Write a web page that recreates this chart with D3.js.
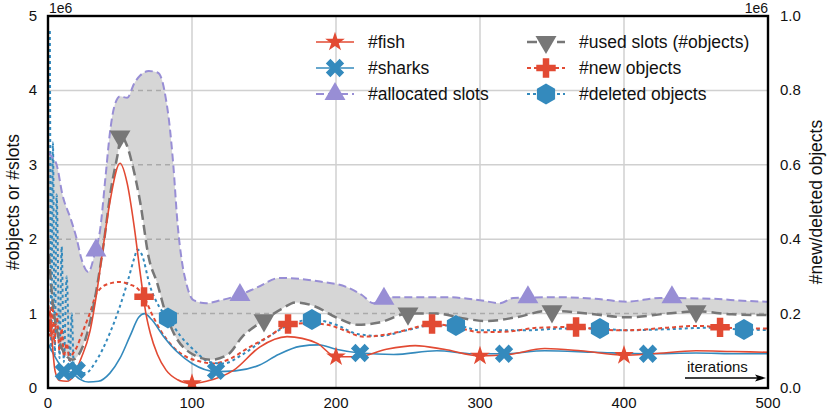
<!DOCTYPE html>
<html>
<head>
<meta charset="utf-8">
<script src="https://cdn.jsdelivr.net/npm/d3@7"></script>
<style>
  body { margin: 0; background: #fff; }
  svg { font-family: "Liberation Sans", Arial, sans-serif; }
</style>
</head>
<body>
<svg id="chart" width="831" height="410"></svg>
<script>
// values in 1e6: [iteration, value]
var fish = [[0,0.82],[1.5,1.05],[3,0.6],[5,0.22],[8,0.1],[13,0.09],[18,0.17],[23,0.4],[29,0.75],[34,1.3],[38,1.85],[43,2.5],[50,3.02],[55,2.75],[60,2.15],[64,1.55],[68,1.0],[71,0.74],[76,0.45],[82,0.24],[90,0.11],[99,0.06],[110,0.09],[129,0.24],[147,0.55],[166,0.69],[187,0.6],[200,0.42],[215,0.42],[235,0.52],[255,0.57],[275,0.52],[300,0.43],[320,0.45],[345,0.53],[370,0.5],[400,0.44],[420,0.46],[450,0.5],[475,0.49],[500,0.48]];
var sharks = [[0,0.6],[4,0.45],[8,0.32],[12,0.24],[17,0.2],[22,0.12],[28,0.08],[35,0.09],[43,0.2],[50,0.4],[57,0.7],[63,0.95],[67,1.0],[72,0.92],[80,0.7],[90,0.48],[100,0.33],[117,0.22],[130,0.23],[147,0.31],[160,0.45],[175,0.56],[188,0.58],[200,0.52],[216.7,0.47],[240,0.45],[270,0.5],[295,0.46],[316.7,0.46],[345,0.5],[380,0.48],[416.7,0.46],[450,0.47],[480,0.46],[500,0.46]];
var allocated = [[0,3.17],[3,3.1],[6,3.0],[10,2.6],[16,2.26],[20,2.0],[23,1.75],[28,1.56],[33,1.85],[36,2.1],[40,2.85],[43,3.43],[46,3.78],[50,3.92],[55,3.9],[60,4.1],[64,4.2],[70,4.26],[76,4.24],[79,4.15],[82,3.87],[84,3.6],[87,3.0],[90,2.2],[93,1.7],[96,1.41],[101,1.18],[110,1.14],[120,1.18],[133,1.25],[145,1.35],[161,1.48],[189,1.43],[207,1.36],[218,1.25],[226,1.14],[233,1.2],[240,1.22],[277,1.22],[300,1.18],[314,1.14],[323,1.21],[355,1.22],[380,1.2],[402,1.16],[425,1.21],[460,1.2],[485,1.17],[500,1.16]];
var usedSlots = [[0,2.0],[3,1.2],[7,0.7],[12,0.45],[17,0.38],[24,0.55],[30,0.95],[38,1.85],[44,2.7],[48,3.1],[51,3.38],[55,3.25],[59,2.97],[64,2.5],[70,1.75],[76,1.4],[81,1.05],[87,0.75],[99,0.47],[113,0.38],[125,0.45],[135,0.69],[150,0.91],[162,1.06],[172,1.15],[185,1.1],[200,0.95],[215,0.85],[230,0.88],[250,1.0],[270,1.0],[290,0.93],[305,0.9],[325,0.95],[348,1.04],[375,1.0],[402,0.95],[430,1.0],[451,1.03],[475,0.99],[500,0.98]];
// right axis (1e6)
var newObjects = [[0,0.26],[1.5,0.14],[3,0.23],[4.5,0.12],[6,0.2],[8,0.1],[9.5,0.16],[11,0.085],[13,0.12],[15,0.075],[17,0.09],[20,0.11],[24,0.15],[29,0.2],[34,0.256],[42,0.28],[50,0.285],[57,0.278],[62,0.268],[66.7,0.245],[72,0.2],[78,0.156],[87,0.11],[96,0.084],[105,0.072],[115,0.066],[125,0.076],[140,0.11],[154,0.14],[166.7,0.17],[180,0.174],[194,0.17],[205,0.156],[219,0.138],[235,0.144],[249,0.156],[266.7,0.172],[285,0.162],[300,0.15],[320,0.152],[340,0.162],[366.7,0.164],[383,0.157],[400,0.155],[430,0.162],[451,0.167],[466.7,0.163],[485,0.16],[500,0.16]];
var deletedObjects = [[1.3,0.96],[2.3,0.1],[3.4,0.66],[4.7,0.09],[6,0.52],[8,0.08],[9.5,0.38],[11,0.07],[13,0.3],[15,0.06],[16.5,0.2],[18,0.05],[21,0.04],[26,0.04],[33,0.07],[43,0.148],[50,0.22],[55,0.282],[60,0.35],[62,0.372],[65,0.36],[71,0.272],[77,0.22],[83.3,0.188],[92,0.14],[102,0.1],[112,0.07],[122,0.066],[135,0.09],[150,0.13],[165,0.165],[183.3,0.184],[200,0.17],[215,0.145],[230,0.14],[250,0.156],[265,0.168],[283.3,0.168],[300,0.155],[330,0.155],[360,0.16],[383.3,0.16],[400,0.155],[430,0.158],[460,0.162],[483.3,0.157],[500,0.156]];

// marker points
var fishMarks = [[0,0.82],[100,0.06],[200,0.42],[300,0.43],[400,0.44]];
var sharkMarks = [[11,0.22],[20,0.24],[116.7,0.23],[216.7,0.47],[316.7,0.46],[416.7,0.46]];
var allocMarks = [[33.3,1.85],[133.3,1.25],[233.3,1.2],[333.3,1.22],[433.3,1.22]];
var usedMarks = [[50,3.38],[150,0.91],[250,1.0],[350,1.03],[450,1.03]];
var newMarks = [[66.7,0.245],[166.7,0.172],[266.7,0.172],[366.7,0.164],[466.7,0.163]];
var delMarks = [[83.3,0.188],[183.3,0.184],[283.3,0.168],[383.3,0.16],[483.3,0.157]];

var xTicks = [0,100,200,300,400,500];
var yLeftTicks = [0,1,2,3,4,5];
var yRightTicks = [0,0.2,0.4,0.6,0.8,1.0];

var legendLabels = ["#fish","#sharks","#allocated slots","#used slots (#objects)","#new objects","#deleted objects"];

var red = "#E24A33", blue = "#348ABD", purple = "#988ED5", gray = "#777777";

var svg = d3.select("#chart");
var x = d3.scaleLinear().domain([0,500]).range([48,768]);
var yL = d3.scaleLinear().domain([0,5]).range([388,16]);
var yR = d3.scaleLinear().domain([0,1]).range([388,16]);

svg.append("clipPath").attr("id","plotclip").append("rect")
  .attr("x",48).attr("y",16).attr("width",720).attr("height",372);

// grid
var grid = svg.append("g").attr("stroke","#d0d0d0").attr("stroke-width",1.5);
grid.selectAll(".gx").data(xTicks.slice(1,-1)).enter().append("line")
  .attr("x1",function(d){return x(d);}).attr("x2",function(d){return x(d);})
  .attr("y1",16).attr("y2",388);
grid.selectAll(".gy").data(yLeftTicks.slice(1,-1)).enter().append("line")
  .attr("x1",48).attr("x2",768)
  .attr("y1",function(d){return yL(d);}).attr("y2",function(d){return yL(d);});

var lineL = d3.line().x(function(d){return x(d[0]);}).y(function(d){return yL(d[1]);}).curve(d3.curveMonotoneX);
var lineR = d3.line().x(function(d){return x(d[0]);}).y(function(d){return yR(d[1]);}).curve(d3.curveMonotoneX);

// fill between used and allocated slots
var fillPath = lineL(allocated) + "L" + lineL(usedSlots.slice().reverse()).slice(1) + "Z";
var plot = svg.append("g").attr("clip-path","url(#plotclip)");
plot.append("path").attr("d",fillPath).attr("fill","#d6d6d6");

svg.append("clipPath").attr("id","fillclip").append("path").attr("d",fillPath);
var grid2 = plot.append("g").attr("clip-path","url(#fillclip)")
  .attr("stroke","#aaaaaa").attr("stroke-width",1.5).attr("stroke-dasharray","5,4");
grid2.selectAll("line").data(yLeftTicks.slice(1,-1)).enter().append("line")
  .attr("x1",48).attr("x2",768)
  .attr("y1",function(d){return yL(d);}).attr("y2",function(d){return yL(d);});

var series = [
  {data: deletedObjects, gen: lineR, color: blue, dash: "3,3", w: 2},
  {data: newObjects, gen: lineR, color: red, dash: "4,3", w: 2},
  {data: usedSlots, gen: lineL, color: gray, dash: "10,5", w: 2.5},
  {data: allocated, gen: lineL, color: purple, dash: "8,4", w: 2},
  {data: sharks, gen: lineL, color: blue, dash: null, w: 1.6},
  {data: fish, gen: lineL, color: red, dash: null, w: 1.6}
];
series.forEach(function(s){
  plot.append("path").attr("d",s.gen(s.data)).attr("fill","none")
    .attr("stroke",s.color).attr("stroke-width",s.w)
    .attr("stroke-dasharray",s.dash);
});

function hexagon(r) {
  var pts = d3.range(6).map(function(k){ var a = -Math.PI/2 + k*Math.PI/3; return [r*Math.cos(a), r*Math.sin(a)]; });
  return "M" + pts.join("L") + "Z";
}
var shapes = {
  star: {d: d3.symbol(d3.symbolStar, 120)(), rot: 0},
  x: {d: d3.symbol(d3.symbolCross, 210)(), rot: 45},
  up: {d: d3.symbol(d3.symbolTriangle, 190)(), rot: 0},
  down: {d: d3.symbol(d3.symbolTriangle, 190)(), rot: 180},
  plus: {d: d3.symbol(d3.symbolCross, 210)(), rot: 0},
  hex: {d: hexagon(10.5), rot: 0}
};

var markSets = [
  {pts: fishMarks, y: yL, shape: "star", color: red},
  {pts: sharkMarks, y: yL, shape: "x", color: blue},
  {pts: allocMarks, y: yL, shape: "up", color: purple},
  {pts: usedMarks, y: yL, shape: "down", color: gray},
  {pts: newMarks, y: yR, shape: "plus", color: red},
  {pts: delMarks, y: yR, shape: "hex", color: blue}
];
markSets.forEach(function(m){
  plot.selectAll(null).data(m.pts).enter().append("path")
    .attr("d",shapes[m.shape].d)
    .attr("transform",function(d){return "translate(" + x(d[0]) + "," + m.y(d[1]) + ") rotate(" + shapes[m.shape].rot + ")";})
    .attr("fill",m.color);
});

// frame
svg.append("rect").attr("x",48).attr("y",16).attr("width",720).attr("height",372)
  .attr("fill","none").attr("stroke","#000").attr("stroke-width",2.4);

// tick labels
var lab = svg.append("g").attr("font-size",15).attr("fill","#111");
lab.selectAll(".xl").data(xTicks).enter().append("text")
  .attr("x",function(d){return x(d);}).attr("y",408).attr("text-anchor","middle").text(function(d){return d;});
lab.selectAll(".yl").data(yLeftTicks).enter().append("text")
  .attr("x",37).attr("y",function(d){return yL(d)+5;}).attr("text-anchor","end").text(function(d){return d;});
lab.selectAll(".yr").data(yRightTicks).enter().append("text")
  .attr("x",780).attr("y",function(d){return yR(d)+5;}).attr("text-anchor","start").text(function(d){return d.toFixed(1);});
lab.append("text").attr("x",49).attr("y",13).attr("font-size",14).text("1e6");
lab.append("text").attr("x",768).attr("y",13).attr("font-size",14).attr("text-anchor","end").text("1e6");

svg.append("text").attr("transform","translate(19,202) rotate(-90)")
  .attr("text-anchor","middle").attr("font-size",17.5).attr("fill","#111").text("#objects or #slots");
svg.append("text").attr("transform","translate(822,202) rotate(-90)")
  .attr("text-anchor","middle").attr("font-size",17.5).attr("fill","#111").text("#new/deleted objects");

// iterations arrow
svg.append("text").attr("x",687).attr("y",372).attr("font-size",15).attr("fill","#111").text("iterations");
svg.append("line").attr("x1",685).attr("x2",758).attr("y1",378).attr("y2",378).attr("stroke","#000").attr("stroke-width",1.3);
svg.append("path").attr("d","M766,378 L755,374.5 L757.5,378 L755,381.5 Z").attr("fill","#000");

// legend
var legendPos = [[316,42],[316,68],[316,94],[527,42],[527,68],[527,94]];
var legendStyle = [
  {color: red, dash: null, w: 1.6, shape: "star"},
  {color: blue, dash: null, w: 1.6, shape: "x"},
  {color: purple, dash: "8,4", w: 2, shape: "up"},
  {color: gray, dash: "10,5", w: 2.5, shape: "down"},
  {color: red, dash: "4,3", w: 2, shape: "plus"},
  {color: blue, dash: "3,3", w: 2, shape: "hex"}
];
var leg = svg.append("g");
legendLabels.forEach(function(t,i){
  var p = legendPos[i], s = legendStyle[i];
  leg.append("line").attr("x1",p[0]).attr("x2",p[0]+38).attr("y1",p[1]).attr("y2",p[1])
    .attr("stroke",s.color).attr("stroke-width",s.w).attr("stroke-dasharray",s.dash);
  leg.append("path").attr("d",shapes[s.shape].d)
    .attr("transform","translate(" + (p[0]+19) + "," + p[1] + ") rotate(" + shapes[s.shape].rot + ")")
    .attr("fill",s.color);
  leg.append("text").attr("x",p[0]+52).attr("y",p[1]+6).attr("font-size",17.5).attr("fill","#111").text(t);
});
</script>
</body>
</html>
